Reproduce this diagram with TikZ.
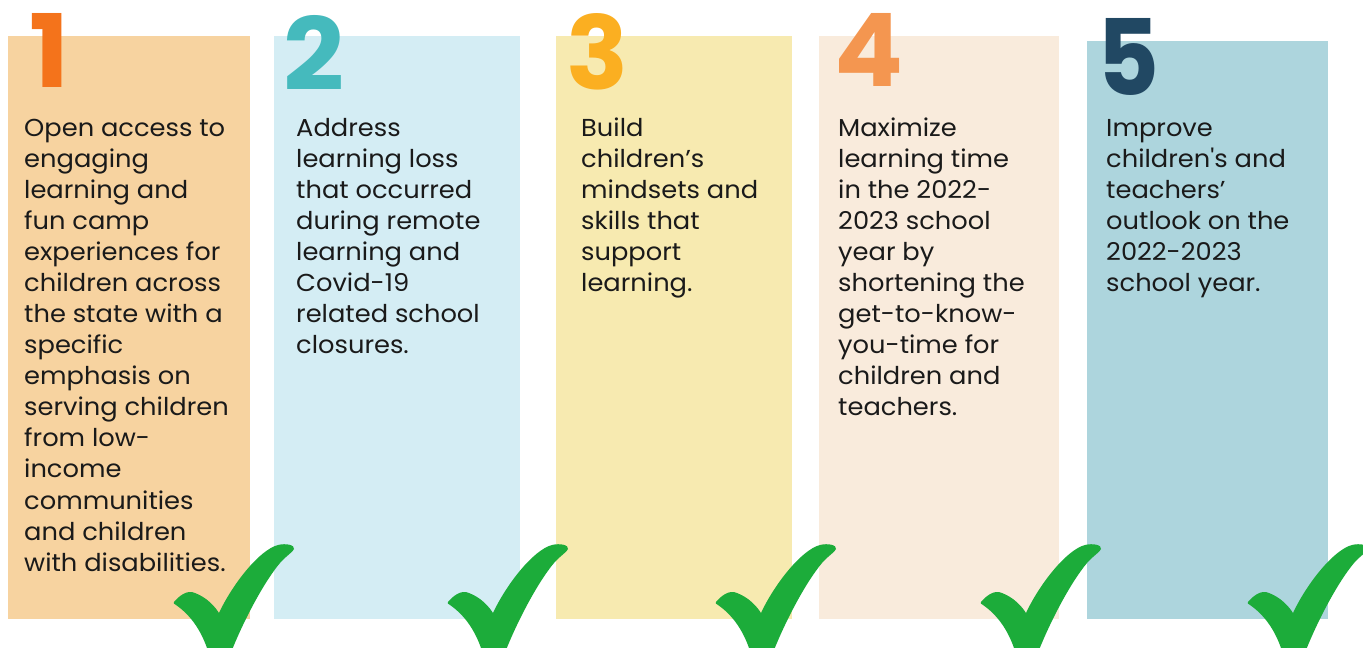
\documentclass[tikz,border=0pt]{standalone}
\usepackage{fontspec}
\newfontfamily\bodyfont{Poppins}[Ligatures=TeXOff,FakeStretch=1.05]
\newfontfamily\numfont{Poppins}
\definecolor{boxA}{RGB}{247,211,160}
\definecolor{boxB}{RGB}{212,237,244}
\definecolor{boxC}{RGB}{247,234,176}
\definecolor{boxD}{RGB}{249,235,220}
\definecolor{boxE}{RGB}{173,213,221}
\definecolor{numA}{RGB}{244,115,27}
\definecolor{numB}{RGB}{69,186,189}
\definecolor{numC}{RGB}{251,175,33}
\definecolor{numD}{RGB}{244,150,80}
\definecolor{numE}{RGB}{33,72,99}
\definecolor{tickgreen}{RGB}{28,172,58}
\definecolor{txt}{RGB}{26,26,26}
\tikzset{
  panel/.style={fill=#1, draw=none},
  bignum/.style={anchor=north west, inner sep=0pt, text=#1},
  goal/.style={anchor=north west, inner sep=0pt, align=left, text=txt,
    font=\bodyfont\fontsize{24.5}{31.07}\selectfont},
  greentick/.pic={
    \fill[tickgreen] (0,602) .. controls (5,596) and (12,591) .. (18,592)
      .. controls (28,595) and (38,602) .. (45,613)
      .. controls (58,585) and (85,550) .. (104,545)
      .. controls (112,543) and (121,545) .. (120,549)
      .. controls (119,552) and (112,556) .. (106,563)
      .. controls (90,582) and (70,620) .. (58,650)
      -- (56,662) -- (36,662) -- (33,648)
      .. controls (26,628) and (15,614) .. (2,605)
      .. controls (0,604) and (-1,603) .. (0,602) -- cycle;
  }
}
\newcommand\bignumber[3]{\resizebox{#1pt}{#2pt}{\numfont\bfseries #3}}
\begin{document}
\begin{tikzpicture}[x=1pt,y=-1pt]
\useasboundingbox (0,0) rectangle (1363,648);
\clip (0,0) rectangle (1363,648);
\fill[white] (0,0) rectangle (1363,648);
% panels
\fill[panel=boxA] (8,36) rectangle (250,619);
\fill[panel=boxB] (274,36) rectangle (520,619);
\fill[panel=boxC] (556,36) rectangle (792,619);
\fill[panel=boxD] (819,36) rectangle (1059,619);
\fill[panel=boxE] (1087,41) rectangle (1328,619);
% numbers
\node[bignum=numA] (n1) at (29,13) {\bignumber{40}{74}{1}};
\node[bignum=numB] (n2) at (283,15) {\bignumber{61}{75}{2}};
\node[bignum=numC] (n3) at (566,13) {\bignumber{62}{76}{3}};
\node[bignum=numD] (n4) at (834,13) {\bignumber{69}{73}{4}};
\node[bignum=numE] (n5) at (1097,18) {\bignumber{62}{77}{5}};
% texts
\node[goal] (t1) at (24,116) {\rule{0pt}{20pt}Open access to\\engaging\\learning and\\fun camp\\experiences for\\children across\\the state with a\\specific\\emphasis on\\serving children\\from low-\\income\\communities\\and children\\with disabilities.};
\node[goal] (t2) at (296,116) {\rule{0pt}{20pt}Address\\learning loss\\that occurred\\during remote\\learning and\\Covid-19\\related school\\closures.};
\node[goal] (t3) at (581,116) {\rule{0pt}{20pt}Build\\children’s\\mindsets and\\skills that\\support\\learning.};
\node[goal] (t4) at (838,116) {\rule{0pt}{20pt}Maximize\\learning time\\in the 2022-\\2023 school\\year by\\shortening the\\get-to-know-\\you-time for\\children and\\teachers.};
\node[goal] (t5) at (1106,116) {\rule{0pt}{20pt}Improve\\children's and\\teachers’\\outlook on the\\2022-2023\\school year.};
% ticks
\pic at (174,0) {greentick};
\pic at (448,0) {greentick};
\pic at (716,0) {greentick};
\pic at (981,0) {greentick};
\pic at (1248,0) {greentick};
\end{tikzpicture}
\end{document}
